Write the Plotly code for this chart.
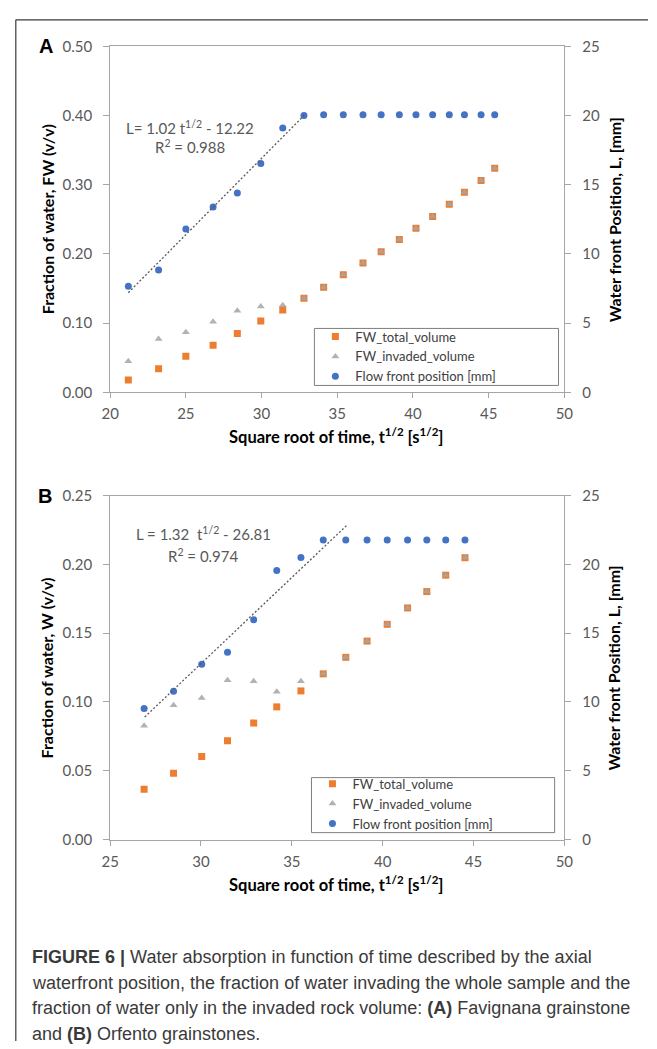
import numpy as np
import plotly.graph_objects as go

# ---------------- data: panel A (Favignana) ----------------
tA = [21.2, 23.2, 25.0, 26.8, 28.4, 29.95, 31.4, 32.8, 34.1, 35.4,
      36.7, 37.9, 39.1, 40.2, 41.3, 42.4, 43.4, 44.5, 45.4]
fw_total_A = [0.018, 0.034, 0.052, 0.068, 0.085, 0.103, 0.119, 0.136, 0.152, 0.170,
              0.187, 0.203, 0.221, 0.237, 0.254, 0.272, 0.289, 0.306, 0.324]
fw_inv_A = [0.045, 0.077, 0.087, 0.102, 0.118, 0.124, 0.126, 0.136, 0.152, 0.170,
            0.187, 0.203, 0.221, 0.237, 0.254, 0.272, 0.289, 0.306, 0.324]
L_A = [7.66, 8.84, 11.8, 13.4, 14.4, 16.54, 19.1, 20.0, 20.05, 20.05,
       20.05, 20.05, 20.05, 20.05, 20.05, 20.05, 20.05, 20.05, 20.05]
trend_A_t = [21.2, 32.8]
trend_A_L = [7.2, 20.0]
eq_A = ["L= 1.02 t<sup>1/2</sup> - 12.22", "R<sup>2</sup> = 0.988"]

# ---------------- data: panel B (Orfento) ----------------
tB = [26.87, 28.49, 30.04, 31.46, 32.9, 34.17, 35.5, 36.73, 37.97, 39.14,
      40.25, 41.37, 42.43, 43.47, 44.53]
fw_total_B = [0.0366, 0.0482, 0.0603, 0.0717, 0.0846, 0.0964, 0.108, 0.1204, 0.1324, 0.1442,
              0.1564, 0.1683, 0.1802, 0.1921, 0.2048]
fw_inv_B = [0.0827, 0.0976, 0.1029, 0.1157, 0.115, 0.1074, 0.115, 0.1204, 0.1324, 0.1442,
            0.1564, 0.1683, 0.1802, 0.1921, 0.2048]
L_B = [9.52, 10.78, 12.73, 13.61, 15.98, 19.55, 20.5, 21.76, 21.76, 21.76,
       21.76, 21.76, 21.76, 21.76, 21.76]
trend_B_t = [26.9, 38.0]
trend_B_L = [8.9, 22.8]
eq_B = ["L = 1.32  t<sup>1/2</sup> - 26.81", "R<sup>2</sup> = 0.974"]

names = ["FW_total_volume", "FW_invaded_volume", "Flow front position [mm]"]

W, H = 657, 1049
def px(x):
    return x / W
def py(y):
    return 1 - y / H

ORANGE = "#ED7D31"
GRAY = "#A5A5A5"
BLUE = "#4472C4"
AXC = "#a6a6a6"
TICKC = "#595959"
FONT = "Lato, Open Sans, sans-serif"

fig = go.Figure()

def add_panel(t, tot, inv, L, tr_t, tr_L, xa, ya, ya2, leg):
    fig.add_trace(go.Scatter(x=t, y=tot, mode="markers", name=names[0],
                             marker=dict(symbol="square", size=7, color=ORANGE),
                             xaxis=xa, yaxis=ya, legend=leg))
    fig.add_trace(go.Scatter(x=t, y=inv, mode="markers", name=names[1],
                             marker=dict(symbol="triangle-up", size=7, color=GRAY, opacity=0.85),
                             xaxis=xa, yaxis=ya, legend=leg))
    fig.add_trace(go.Scatter(x=t, y=L, mode="markers", name=names[2],
                             marker=dict(symbol="circle", size=7, color=BLUE),
                             xaxis=xa, yaxis=ya2, legend=leg))
    fig.add_trace(go.Scatter(x=tr_t, y=tr_L, mode="lines", showlegend=False,
                             line=dict(color="#595959", width=1.3, dash="2px,2px"),
                             xaxis=xa, yaxis=ya2, legend=leg))

add_panel(tA, fw_total_A, fw_inv_A, L_A, trend_A_t, trend_A_L, "x", "y", "y2", "legend")
add_panel(tB, fw_total_B, fw_inv_B, L_B, trend_B_t, trend_B_L, "x2", "y3", "y4", "legend2")

xdom = [px(104), px(571)]
domA = [py(389), py(37)]
domB = [py(844), py(494)]

tickfont = dict(family=FONT, size=15, color=TICKC)
common_x = dict(showgrid=False, zeroline=False, showline=True, linecolor=AXC, linewidth=1,
                ticks="outside", ticklen=5, tickcolor=AXC, tickfont=tickfont, mirror=True,
                dtick=5, ticklabelstandoff=3)
common_y = dict(showgrid=False, zeroline=False, showline=True, linecolor=AXC, linewidth=1,
                ticks="outside", ticklen=6, tickcolor=AXC, tickfont=tickfont,
                ticklabelstandoff=8)

legfont = dict(family=FONT, size=13, color="#404040")
fig.update_layout(
    width=W, height=H, margin=dict(l=0, r=0, t=0, b=0),
    paper_bgcolor="white", plot_bgcolor="white",
    xaxis=dict(domain=xdom, range=[20, 50], anchor="y", **common_x),
    yaxis=dict(domain=domA, range=[0, 0.5], dtick=0.1, tickformat=".2f", anchor="x", **common_y),
    yaxis2=dict(range=[0, 25], dtick=5, overlaying="y", side="right", anchor="x", **common_y),
    xaxis2=dict(domain=xdom, range=[25, 50], anchor="y3", **common_x),
    yaxis3=dict(domain=domB, range=[0, 0.25], dtick=0.05, tickformat=".2f", anchor="x2", **common_y),
    yaxis4=dict(range=[0, 25], dtick=5, overlaying="y3", side="right", anchor="x2", **common_y),
    legend=dict(x=px(315), y=py(317), xanchor="left", yanchor="top",
                borderwidth=0, bgcolor="rgba(255,255,255,0)",
                font=legfont, tracegroupgap=0, itemwidth=30),
    legend2=dict(x=px(312), y=py(772), xanchor="left", yanchor="top",
                 borderwidth=0, bgcolor="rgba(255,255,255,0)",
                 font=legfont, tracegroupgap=0, itemwidth=30),
    showlegend=True,
)

ann = []
def text(x, y, s, size, color="black", bold=False, angle=0, xanchor="center", fam=FONT):
    ann.append(dict(x=px(x), y=py(y), xref="paper", yref="paper", text=(f"<b>{s}</b>" if bold else s),
                    showarrow=False, textangle=angle, xanchor=xanchor, yanchor="middle",
                    font=dict(family=fam, size=size, color=color)))

# panel letters
text(38, 37, "A", 20, bold=True, fam="Liberation Sans, Arial, sans-serif")
text(37, 494, "B", 20, bold=True, fam="Liberation Sans, Arial, sans-serif")
# axis titles
text(39, 213, "Fraction of water, FW (v/v)", 16, bold=True, angle=-90)
text(622, 213, "Water front Position, L, [mm]", 16, bold=True, angle=-90)
text(337, 433, "Square root of time, t<sup>1/2</sup> [s<sup>1/2</sup>]", 16.5, bold=True)
text(39, 669, "Fraction of water, W (v/v)", 16, bold=True, angle=-90)
text(622, 669, "Water front Position, L, [mm]", 16, bold=True, angle=-90)
text(337, 889, "Square root of time, t<sup>1/2</sup> [s<sup>1/2</sup>]", 16.5, bold=True)
# equations
text(186, 120, eq_A[0], 15, color=TICKC)
text(186, 139, eq_A[1], 15, color=TICKC)
text(200, 533, eq_B[0], 15, color=TICKC)
text(200, 555, eq_B[1], 15, color=TICKC)

# caption
CAPF = "Liberation Sans Narrow, Arial Narrow, Liberation Sans, Arial, sans-serif"
cap = ["<b>FIGURE 6 |</b> Water absorption in function of time described by the axial",
       "waterfront position, the fraction of water invading the whole sample and the",
       "fraction of water only in the invaded rock volume: <b>(A)</b> Favignana grainstone",
       "and <b>(B)</b> Orfento grainstones."]
for i, line in enumerate(cap):
    text(22, 964 + i * 25.8, line, 18, color="#3a3a3a", xanchor="left", fam=CAPF)

fig.update_layout(annotations=ann)

# frame
fig.add_shape(type="line", xref="paper", yref="paper", x0=px(7), x1=1, y0=py(10), y1=py(10),
              line=dict(color="#3a3a3a", width=1.2))
fig.add_shape(type="line", xref="paper", yref="paper", x0=px(7), x1=px(7), y0=py(10), y1=0,
              line=dict(color="#3a3a3a", width=1.2))
# legend boxes
fig.add_shape(type="rect", xref="paper", yref="paper", x0=px(314), x1=px(565), y0=py(382), y1=py(324),
              line=dict(color="#7f7f7f", width=1), layer="below")
fig.add_shape(type="rect", xref="paper", yref="paper", x0=px(311), x1=px(561), y0=py(837), y1=py(781),
              line=dict(color="#7f7f7f", width=1), layer="below")

fig.write_html("out.html", config={"displayModeBar": False},
               post_script="document.body.style.margin='0px';")
